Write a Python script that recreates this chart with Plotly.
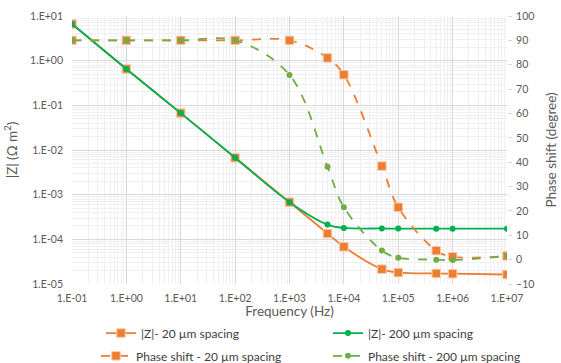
import plotly.graph_objects as go

# Measured impedance spectra for two electrode spacings
freq = [0.1, 1, 10, 100, 1000, 5000, 10000, 50000, 100000, 500000, 1000000, 10000000]
z_20um = [6.6, 0.65, 0.067, 0.0067, 6.8e-4, 1.35e-4, 6.8e-5, 2.15e-5, 1.8e-5, 1.72e-5, 1.7e-5, 1.63e-5]
z_200um = [6.6, 0.65, 0.067, 0.0067, 6.8e-4, 2.14e-4, 1.8e-4, 1.75e-4, 1.74e-4, 1.73e-4, 1.73e-4, 1.73e-4]
phase_20um = [90, 90, 90, 90, 90, 82.8, 75.9, 38.4, 21.5, 3.7, 1.2, 1.5]
phase_200um = [90, 90, 90, 90, 75.8, 38.1, 21.5, 3.7, 0.8, 0.0, -0.2, 1.5]

x_tickvals = [1e-1, 1e0, 1e1, 1e2, 1e3, 1e4, 1e5, 1e6, 1e7]
x_ticktext = ["1.E-01", "1.E+00", "1.E+01", "1.E+02", "1.E+03", "1.E+04", "1.E+05", "1.E+06", "1.E+07"]
y_tickvals = [1e-5, 1e-4, 1e-3, 1e-2, 1e-1, 1e0, 1e1]
y_ticktext = ["1.E-05", "1.E-04", "1.E-03", "1.E-02", "1.E-01", "1.E+00", "1.E+01"]

ORANGE = "#ED7D31"
GREEN = "#00B050"
GREEN_LIGHT = "#70AD47"
TXT = "#595959"
FONT = "Lato"
TICK_SIZE = 10.5
TITLE_SIZE = 13.5


def minor_ticks(lo, hi):
    vals = []
    for e in range(lo, hi):
        for k in range(2, 10):
            vals.append(k * 10.0 ** e)
    return vals


fig = go.Figure()

fig.add_trace(go.Scatter(
    x=freq, y=z_20um, name="|Z|- 20 µm spacing", mode="lines+markers",
    line=dict(color=ORANGE, width=1.8, shape="spline"),
    marker=dict(symbol="square", size=8.5, color=ORANGE, line=dict(color="#F8CBAD", width=1)),
    legend="legend",
))
fig.add_trace(go.Scatter(
    x=freq, y=z_200um, name="|Z|- 200 µm spacing", mode="lines+markers",
    line=dict(color=GREEN, width=1.8, shape="spline"),
    marker=dict(symbol="circle", size=6, color=GREEN),
    legend="legend2",
))
fig.add_trace(go.Scatter(
    x=freq, y=phase_20um, name="Phase shift - 20 µm spacing", mode="lines+markers",
    line=dict(color=ORANGE, width=1.8, dash="dash", shape="spline"),
    marker=dict(symbol="square", size=8.5, color=ORANGE, line=dict(color="#F8CBAD", width=1)),
    yaxis="y2", legend="legend3",
))
fig.add_trace(go.Scatter(
    x=freq, y=phase_200um, name="Phase shift - 200 µm spacing", mode="lines+markers",
    line=dict(color=GREEN_LIGHT, width=1.8, dash="dash", shape="spline"),
    marker=dict(symbol="circle", size=6, color=GREEN_LIGHT),
    yaxis="y2", legend="legend4",
))

legend_common = dict(
    orientation="h", xanchor="left", yanchor="middle",
    font=dict(family=FONT, size=12, color="#404040"),
    bgcolor="rgba(0,0,0,0)",
)

fig.update_layout(
    width=561, height=363,
    margin=dict(l=72, r=54, t=16, b=79, autoexpand=False),
    paper_bgcolor="white", plot_bgcolor="white",
    font=dict(family=FONT, size=TICK_SIZE, color=TXT),
    showlegend=True,
    legend=dict(x=0.0667, y=-0.183, **legend_common),
    legend2=dict(x=0.5885, y=-0.183, **legend_common),
    legend3=dict(x=0.0552, y=-0.268, **legend_common),
    legend4=dict(x=0.5885, y=-0.268, **legend_common),
    xaxis=dict(
        type="log", range=[-1, 7],
        tickmode="array", tickvals=x_tickvals, ticktext=x_ticktext,
        showgrid=True, gridcolor="#D9D9D9", gridwidth=1,
        minor=dict(tickmode="array", tickvals=minor_ticks(-1, 7), showgrid=True, gridcolor="#F0F0F0", gridwidth=1),
        zeroline=False, showline=False, ticks="", ticklabelstandoff=6,
        tickfont=dict(family=FONT, size=TICK_SIZE, color=TXT),
        title=dict(text="Frequency (Hz)", font=dict(family=FONT, size=TITLE_SIZE, color=TXT), standoff=1),
    ),
    yaxis=dict(
        type="log", range=[-5, 1],
        tickmode="array", tickvals=y_tickvals, ticktext=y_ticktext,
        showgrid=True, gridcolor="#D9D9D9", gridwidth=1,
        minor=dict(tickmode="array", tickvals=minor_ticks(-5, 1), showgrid=True, gridcolor="#F0F0F0", gridwidth=1),
        zeroline=False, showline=False, ticks="", ticklabelstandoff=8,
        tickfont=dict(family=FONT, size=TICK_SIZE, color=TXT),
        title=dict(text="|Z| (Ω m<sup>2</sup>)", font=dict(family=FONT, size=TITLE_SIZE, color=TXT), standoff=9),
    ),
    yaxis2=dict(
        overlaying="y", side="right", range=[-10, 100], dtick=10,
        showgrid=False, zeroline=False, showline=False,
        ticks="outside", ticklen=4, tickcolor="#D9D9D9", ticklabelstandoff=2,
        tickfont=dict(family=FONT, size=TICK_SIZE, color=TXT),
        title=dict(text="Phase shift (degree)", font=dict(family=FONT, size=TITLE_SIZE, color=TXT), standoff=13),
    ),
)

fig.write_html("out.html")
